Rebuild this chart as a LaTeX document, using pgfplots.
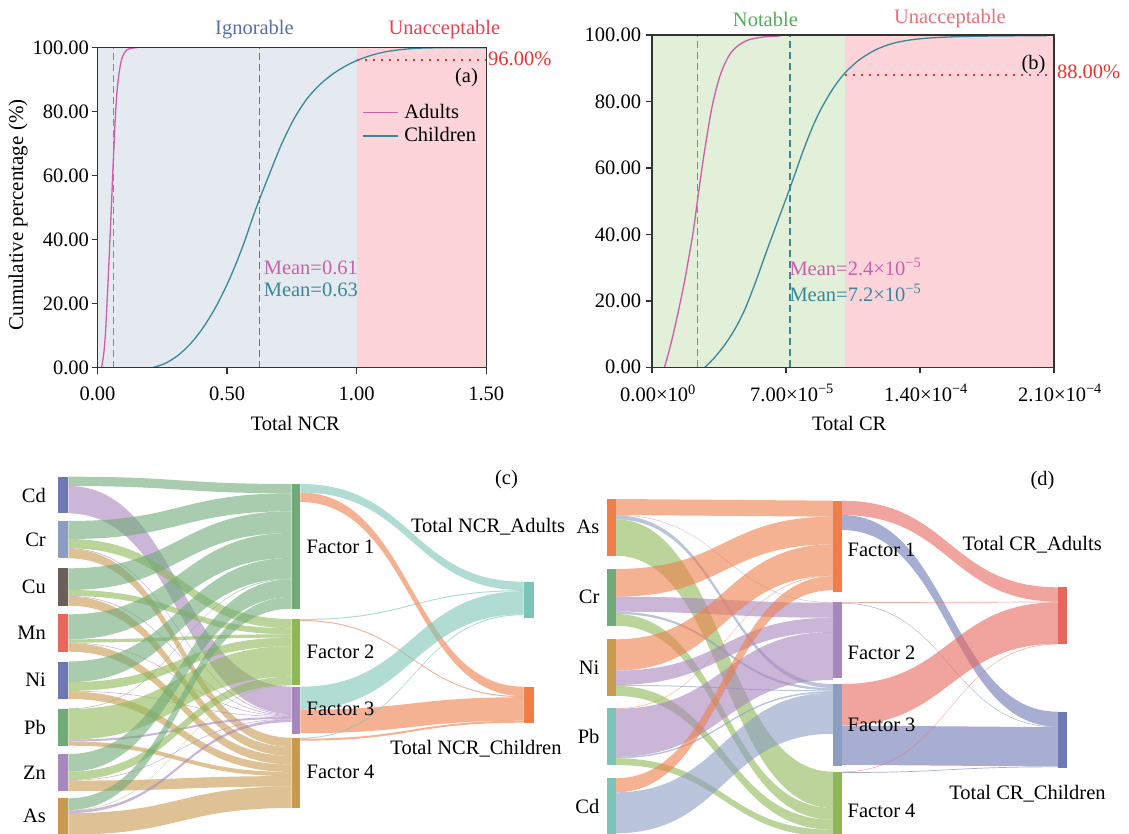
\documentclass[border=0pt]{standalone}
\usepackage{fontspec}
\setmainfont{Liberation Serif}
\usepackage{pgfplots}
\pgfplotsset{compat=1.18}

\definecolor{ignC}{HTML}{5A6FA8}
\definecolor{unaA}{HTML}{E8404F}
\definecolor{notC}{HTML}{4FAE5C}
\definecolor{unaB}{HTML}{EC6F7B}
\definecolor{redT}{HTML}{EE3030}
\definecolor{pinkL}{HTML}{CC5FA8}
\definecolor{tealL}{HTML}{3A8798}
\definecolor{bgIgn}{HTML}{E4EAF0}
\definecolor{bgPink}{HTML}{FDD4DA}
\definecolor{bgGreen}{HTML}{E2EFD9}
\definecolor{axC}{HTML}{333333}
\definecolor{sBlue}{HTML}{6E78B4}
\definecolor{sSteel}{HTML}{8C9DC2}
\definecolor{sBrown}{HTML}{6B5F5A}
\definecolor{sRed}{HTML}{E8665E}
\definecolor{sGreen}{HTML}{6FAA78}
\definecolor{sPurple}{HTML}{A886BE}
\definecolor{sTan}{HTML}{C89A4E}
\definecolor{sYG}{HTML}{8DB855}
\definecolor{sTeal}{HTML}{7CC4B8}
\definecolor{sOrange}{HTML}{EF7E4B}

% Sankey helpers: node geometry (px units) and flows whose widths are the data
\newcommand\declnode[4]{%
  \expandafter\xdef\csname xl@#1\endcsname{#2}%
  \expandafter\xdef\csname xr@#1\endcsname{#3}%
  \expandafter\xdef\csname out@#1\endcsname{#4}%
  \expandafter\xdef\csname in@#1\endcsname{#4}%
}
\newcommand\flow[4]{%
  \pgfmathsetmacro\fya{\csname out@#1\endcsname}%
  \pgfmathsetmacro\fyb{\fya+#3}%
  \expandafter\xdef\csname out@#1\endcsname{\fyb}%
  \pgfmathsetmacro\fyc{\csname in@#2\endcsname}%
  \pgfmathsetmacro\fyd{\fyc+#3}%
  \expandafter\xdef\csname in@#2\endcsname{\fyd}%
  \edef\fxa{\csname xr@#1\endcsname}%
  \edef\fxb{\csname xl@#2\endcsname}%
  \pgfmathsetmacro\fxm{(\fxa+\fxb)/2}%
  \edef\tmp{\noexpand\fill[#4, fill opacity=0.6] (axis cs:\fxa,\fya) .. controls (axis cs:\fxm,\fya) and (axis cs:\fxm,\fyc) .. (axis cs:\fxb,\fyc) -- (axis cs:\fxb,\fyd) .. controls (axis cs:\fxm,\fyd) and (axis cs:\fxm,\fyb) .. (axis cs:\fxa,\fyb) -- cycle;}%
  \tmp
}
\newcommand\nodebar[5]{\fill[#5] (axis cs:#1,#2) rectangle (axis cs:#3,#4);}

\newcommand\bigfont{\fontsize{20.5}{24}\selectfont}
\pgfplotsset{
  cdfaxis/.style={
    anchor=south west, scale only axis, axis on top,
    ymin=0, ymax=100,
    axis line style={axC, line width=1.4pt},
    tick style={axC, line width=1.4pt},
    tick align=outside, tick pos=left, major tick length=6pt,
    ytick={0,20,40,60,80,100},
    yticklabels={0.00,20.00,40.00,60.00,80.00,100.00},
    tick label style={font=\bigfont, inner sep=0pt},
  },
}

\begin{document}
\bigfont
\begin{tikzpicture}[x=1pt,y=1pt]
\path[use as bounding box] (0pt,0pt) rectangle (1129pt,833pt);

% ---------------- (a) ----------------
\begin{axis}[cdfaxis, at={(97.5pt,465.3pt)}, width=388.7pt, height=320pt,
  xmin=0, xmax=1.5,
  xtick={0,0.5,1,1.5}, xticklabels={0.00,0.50,1.00,1.50},
  yticklabel style={xshift=-2.4pt},
  xticklabel style={yshift=-12.8pt},
  legend style={draw=none, fill=none, at={(0.68,0.83)}, anchor=north west,
    inner sep=0pt, row sep=2.3pt, column sep=5pt,
    nodes={inner sep=1pt, text height=15pt, text depth=4pt}},
  legend cell align=left,
  legend image code/.code={\draw[#1] (0pt,0pt) -- (35pt,0pt);},
]
\addplot[fill=bgIgn, draw=none, forget plot] coordinates {(0,100) (1,100)} \closedcycle;
\addplot[fill=bgPink, draw=none, forget plot] coordinates {(1,100) (1.5,100)} \closedcycle;
\addplot[pinkL, line width=1.3pt, smooth] coordinates {
 (0.016,0) (0.025,5) (0.031,11) (0.036,19) (0.042,29) (0.048,40) (0.054,51)
 (0.059,61) (0.064,70) (0.068,77) (0.074,85) (0.08,90) (0.087,94) (0.093,96.3)
 (0.103,98.3) (0.113,99.3) (0.13,99.8) (0.151,100)};
\addlegendentry{Adults}
\addplot[tealL, line width=1.3pt, smooth] coordinates {
 (0.211,0) (0.26,1.3) (0.31,3.8) (0.36,7.6) (0.41,12.8) (0.46,19.5) (0.51,27.8)
 (0.56,37.8) (0.61,49.4) (0.66,59.8) (0.71,69.8) (0.76,78.0) (0.81,84.2)
 (0.86,88.6) (0.91,91.9) (0.96,94.4) (1.01,96.3) (1.06,97.7) (1.11,98.7)
 (1.16,99.3) (1.21,99.7) (1.26,99.9) (1.35,100) (1.5,100)};
\addlegendentry{Children}
\addplot[pinkL, line width=1.4pt, dash pattern=on 7pt off 4pt, forget plot] coordinates {(0.062,0) (0.062,100)};
\addplot[tealL, line width=1.4pt, dash pattern=on 7pt off 4pt, forget plot] coordinates {(0.626,0) (0.626,100)};
\addplot[redT, line width=2pt, dash pattern=on 2pt off 6pt, forget plot] coordinates {(1,96) (1.5,96)};
\end{axis}
\node[ignC] at (254.5pt,803.7pt) {Ignorable};
\node[unaA] at (444.4pt,803pt) {Unacceptable};
\node[redT, anchor=west, inner sep=0pt] at (488pt,774.3pt) {96.00\%};
\node at (466.5pt,755.7pt) {(a)};
\node[rotate=90, font=\fontsize{21}{24}\selectfont] at (18.2pt,618pt) {Cumulative percentage (\%)};
\node at (295.3pt,409.7pt) {Total NCR};
\node[pinkL, anchor=west, inner sep=0pt] at (263.6pt,564.7pt) {Mean=0.61};
\node[tealL, anchor=west, inner sep=0pt] at (263.6pt,543pt) {Mean=0.63};

% ---------------- (b) ----------------
\begin{axis}[cdfaxis, at={(652pt,465.7pt)}, width=402pt, height=332.3pt,
  xmin=0, xmax=2.1e-4, scaled x ticks=false,
  xtick={0,7e-5,1.4e-4,2.1e-4},
  xticklabels={0.00×10\textsuperscript{0},7.00×10\textsuperscript{−5},1.40×10\textsuperscript{−4},2.10×10\textsuperscript{−4}},
  yticklabel style={xshift=-4.7pt},
  xticklabel style={yshift=-11pt, xshift=6pt},
]
\addplot[fill=bgGreen, draw=none, forget plot] coordinates {(0,100) (1.008e-4,100)} \closedcycle;
\addplot[fill=bgPink, draw=none, forget plot] coordinates {(1.008e-4,100) (2.1e-4,100)} \closedcycle;
\addplot[pinkL, line width=1.3pt, smooth, forget plot] coordinates {
 (6.5e-6,0) (8.5e-6,4) (1.12e-5,10.2) (1.4e-5,17.5) (1.68e-5,25.3) (1.92e-5,33)
 (2.14e-5,40.3) (2.38e-5,50.4) (2.7e-5,63.4) (3.07e-5,76.4) (3.3e-5,82.5)
 (3.54e-5,87.5) (3.8e-5,91.3) (4.1e-5,94.5) (4.5e-5,96.8) (5.03e-5,98.5)
 (5.8e-5,99.4) (6.7e-5,99.7)};
\addplot[tealL, line width=1.3pt, smooth, forget plot] coordinates {
 (2.76e-5,0) (3.2e-5,2.5) (3.73e-5,6.2) (4.3e-5,11.2) (4.84e-5,17.3) (5.4e-5,25.5)
 (5.96e-5,34.5) (6.6e-5,44.5) (7.21e-5,54) (7.9e-5,65.2) (8.4e-5,72.5)
 (8.78e-5,77.2) (9.1e-5,80.5) (9.47e-5,84.0) (1.008e-4,88.6) (1.087e-4,92.7)
 (1.174e-4,95.7) (1.26e-4,97.5) (1.348e-4,98.5) (1.45e-4,99.1) (1.6e-4,99.5)
 (1.8e-4,99.7) (2.06e-4,99.8)};
\addplot[pinkL, line width=1.4pt, dash pattern=on 7pt off 4pt, forget plot] coordinates {(2.385e-5,0) (2.385e-5,100)};
\addplot[tealL, line width=1.4pt, dash pattern=on 7pt off 4pt, forget plot] coordinates {(7.21e-5,0) (7.21e-5,100)};
\addplot[redT, line width=2pt, dash pattern=on 2pt off 6pt, forget plot] coordinates {(1.008e-4,88) (2.1e-4,88)};
\end{axis}
\node[notC] at (765.4pt,814pt) {Notable};
\node[unaB] at (949.8pt,814pt) {Unacceptable};
\node[redT, anchor=west, inner sep=0pt] at (1056.8pt,761.3pt) {88.00\%};
\node at (1033.6pt,768pt) {(b)};
\node at (849.2pt,409.7pt) {Total CR};
\node[pinkL, anchor=west, inner sep=0pt] at (789.3pt,566.3pt) {Mean=2.4×10\textsuperscript{−5}};
\node[tealL, anchor=west, inner sep=0pt] at (789.3pt,540.3pt) {Mean=7.2×10\textsuperscript{−5}};

% ---------------- (c) and (d): Sankey diagrams ----------------
\begin{axis}[at={(0pt,0pt)}, anchor=south west, scale only axis, width=1129pt, height=373pt,
  xmin=0, xmax=1129, ymin=460, ymax=833, y dir=reverse, hide axis]
% (c) nodes
\declnode{cCd}{58.3}{68.3}{476.7}
\declnode{cCr}{58.3}{68.3}{521}
\declnode{cCu}{58.3}{68.3}{568.3}
\declnode{cMn}{58.3}{68.3}{614.3}
\declnode{cNi}{58.3}{68.3}{661.5}
\declnode{cPb}{58.3}{68.3}{708.5}
\declnode{cZn}{58.3}{68.3}{754}
\declnode{cAs}{58.3}{68.3}{798.3}
\declnode{cF1}{291.6}{300.4}{484}
\declnode{cF2}{291.6}{300.4}{619}
\declnode{cF3}{291.6}{300.4}{686.7}
\declnode{cF4}{291.6}{300.4}{737.7}
\declnode{cAd}{523.6}{533.5}{581.7}
\declnode{cCh}{523.6}{533.5}{686.7}
% (c) flows: element -> factor
\flow{cCd}{cF1}{9.3}{sGreen}  \flow{cCd}{cF3}{27.4}{sPurple}
\flow{cCr}{cF1}{18}{sGreen}   \flow{cCr}{cF2}{9.3}{sYG}  \flow{cCr}{cF3}{0.8}{sPurple} \flow{cCr}{cF4}{9.2}{sTan}
\flow{cCu}{cF1}{21.7}{sGreen} \flow{cCu}{cF2}{6}{sYG}    \flow{cCu}{cF3}{0.7}{sPurple} \flow{cCu}{cF4}{9}{sTan}
\flow{cMn}{cF1}{25}{sGreen}   \flow{cMn}{cF2}{3.3}{sYG}  \flow{cMn}{cF3}{0.6}{sPurple} \flow{cMn}{cF4}{8.5}{sTan}
\flow{cNi}{cF1}{20.7}{sGreen} \flow{cNi}{cF2}{8.7}{sYG}  \flow{cNi}{cF3}{0.6}{sPurple} \flow{cNi}{cF4}{7.5}{sTan}
\flow{cPb}{cF1}{0.6}{sGreen}  \flow{cPb}{cF2}{30.4}{sYG} \flow{cPb}{cF3}{2}{sPurple}   \flow{cPb}{cF4}{4.2}{sTan}
\flow{cZn}{cF1}{17.7}{sGreen} \flow{cZn}{cF2}{8.3}{sYG}  \flow{cZn}{cF3}{0.6}{sPurple} \flow{cZn}{cF4}{10.4}{sTan}
\flow{cAs}{cF1}{11.7}{sGreen} \flow{cAs}{cF2}{0.4}{sYG}  \flow{cAs}{cF3}{2.7}{sPurple} \flow{cAs}{cF4}{21.5}{sTan}
% (c) flows: factor -> population
\flow{cF1}{cAd}{8.5}{sTeal} \flow{cF1}{cCh}{9.5}{sOrange}
\flow{cF2}{cAd}{1}{sTeal}   \flow{cF2}{cCh}{1}{sOrange}
\flow{cF3}{cAd}{23}{sTeal}  \flow{cF3}{cCh}{23.5}{sOrange}
\flow{cF4}{cAd}{1}{sTeal}   \flow{cF4}{cCh}{2}{sOrange}
% (c) node bars
\nodebar{58.3}{476.7}{68.3}{513.3}{sBlue}
\nodebar{58.3}{521}{68.3}{558.3}{sSteel}
\nodebar{58.3}{568.3}{68.3}{605.7}{sBrown}
\nodebar{58.3}{614.3}{68.3}{651.7}{sRed}
\nodebar{58.3}{661.5}{68.3}{699}{sBlue}
\nodebar{58.3}{708.5}{68.3}{745.7}{sGreen}
\nodebar{58.3}{754}{68.3}{791}{sPurple}
\nodebar{58.3}{798.3}{68.3}{840}{sTan}
\nodebar{291.6}{484}{300.4}{609.3}{sGreen}
\nodebar{291.6}{619}{300.4}{685}{sYG}
\nodebar{291.6}{686.7}{300.4}{734}{sPurple}
\nodebar{291.6}{737.7}{300.4}{807.7}{sTan}
\nodebar{523.6}{581.7}{533.5}{618.3}{sTeal}
\nodebar{523.6}{686.7}{533.5}{723.3}{sOrange}
% (c) labels
\node[anchor=east, inner sep=0pt] at (axis cs:46,495) {Cd};
\node[anchor=east, inner sep=0pt] at (axis cs:46,539.7) {Cr};
\node[anchor=east, inner sep=0pt] at (axis cs:46,587) {Cu};
\node[anchor=east, inner sep=0pt] at (axis cs:46,633) {Mn};
\node[anchor=east, inner sep=0pt] at (axis cs:46,680.2) {Ni};
\node[anchor=east, inner sep=0pt] at (axis cs:46,727) {Pb};
\node[anchor=east, inner sep=0pt] at (axis cs:46,772.5) {Zn};
\node[anchor=east, inner sep=0pt] at (axis cs:46,816) {As};
\node[anchor=west, inner sep=0pt] at (axis cs:306.5,547.3) {Factor 1};
\node[anchor=west, inner sep=0pt] at (axis cs:306.5,651.7) {Factor 2};
\node[anchor=west, inner sep=0pt] at (axis cs:306.5,709.3) {Factor 3};
\node[anchor=west, inner sep=0pt] at (axis cs:306.5,772.3) {Factor 4};
\node[anchor=west, inner sep=0pt] at (axis cs:410.9,526.7) {Total NCR\_Adults};
\node[anchor=west, inner sep=0pt] at (axis cs:390.2,748.3) {Total NCR\_Children};
\node at (axis cs:506.5,480) {(c)};

% (d) nodes
\declnode{dAs}{606.7}{615.6}{499}
\declnode{dCr}{606.7}{615.6}{569}
\declnode{dNi}{606.7}{615.6}{639.3}
\declnode{dPb}{606.7}{615.6}{708.3}
\declnode{dCd}{606.7}{615.6}{778.3}
\declnode{dF1}{832.8}{841.8}{500.7}
\declnode{dF2}{832.8}{841.8}{602.3}
\declnode{dF3}{832.8}{841.8}{684}
\declnode{dF4}{832.8}{841.8}{771.7}
\declnode{dAd}{1057.9}{1066.8}{587.3}
\declnode{dCh}{1057.9}{1066.8}{711.7}
% (d) flows: element -> factor
\flow{dAs}{dF1}{16}{sOrange}   \flow{dAs}{dF2}{0.4}{sPurple} \flow{dAs}{dF3}{4}{sSteel}   \flow{dAs}{dF4}{36.3}{sYG}
\flow{dCr}{dF1}{27.7}{sOrange} \flow{dCr}{dF2}{15}{sPurple}  \flow{dCr}{dF3}{2.3}{sSteel} \flow{dCr}{dF4}{11.7}{sYG}
\flow{dNi}{dF1}{31.3}{sOrange} \flow{dNi}{dF2}{14.3}{sPurple} \flow{dNi}{dF3}{1}{sSteel}  \flow{dNi}{dF4}{10}{sYG}
\flow{dPb}{dF1}{0.5}{sOrange}  \flow{dPb}{dF2}{48}{sPurple}  \flow{dPb}{dF3}{1.5}{sSteel} \flow{dPb}{dF4}{6.7}{sYG}
\flow{dCd}{dF1}{14}{sOrange}   \flow{dCd}{dF3}{41}{sSteel}
% (d) flows: factor -> population
\flow{dF1}{dAd}{14.3}{sRed} \flow{dF1}{dCh}{15}{sBlue}
\flow{dF2}{dAd}{0.7}{sRed}  \flow{dF2}{dCh}{0.5}{sBlue}
\flow{dF3}{dAd}{41.5}{sRed} \flow{dF3}{dCh}{39.3}{sBlue}
\flow{dF4}{dAd}{0.5}{sRed}  \flow{dF4}{dCh}{0.7}{sBlue}
% (d) node bars
\nodebar{606.7}{499}{615.6}{555.7}{sOrange}
\nodebar{606.7}{569}{615.6}{625.7}{sGreen}
\nodebar{606.7}{639.3}{615.6}{696}{sTan}
\nodebar{606.7}{708.3}{615.6}{765}{sTeal}
\nodebar{606.7}{778.3}{615.6}{840}{sTeal}
\nodebar{832.8}{500.7}{841.8}{592.3}{sOrange}
\nodebar{832.8}{602.3}{841.8}{678.3}{sPurple}
\nodebar{832.8}{684}{841.8}{766}{sSteel}
\nodebar{832.8}{771.7}{841.8}{840}{sYG}
\nodebar{1057.9}{587.3}{1066.8}{644}{sRed}
\nodebar{1057.9}{711.7}{1066.8}{768.3}{sBlue}
% (d) labels
\node[anchor=east, inner sep=0pt] at (axis cs:599.6,527.3) {As};
\node[anchor=east, inner sep=0pt] at (axis cs:599.6,597.3) {Cr};
\node[anchor=east, inner sep=0pt] at (axis cs:599.6,667.7) {Ni};
\node[anchor=east, inner sep=0pt] at (axis cs:599.6,736.7) {Pb};
\node[anchor=east, inner sep=0pt] at (axis cs:599.6,806.7) {Cd};
\node[anchor=west, inner sep=0pt] at (axis cs:847.5,550) {Factor 1};
\node[anchor=west, inner sep=0pt] at (axis cs:847.5,653.3) {Factor 2};
\node[anchor=west, inner sep=0pt] at (axis cs:847.5,725) {Factor 3};
\node[anchor=west, inner sep=0pt] at (axis cs:847.5,810.7) {Factor 4};
\node[anchor=west, inner sep=0pt] at (axis cs:962.3,545) {Total CR\_Adults};
\node[anchor=west, inner sep=0pt] at (axis cs:949.1,793.3) {Total CR\_Children};
\node at (axis cs:1042.5,480.7) {(d)};
\end{axis}
\end{tikzpicture}
\end{document}
